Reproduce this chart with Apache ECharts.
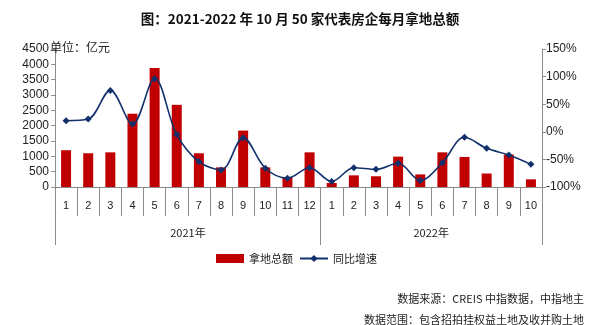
<!DOCTYPE html>
<html>
<head>
<meta charset="utf-8">
<script src="https://cdn.jsdelivr.net/npm/echarts@6/dist/echarts.min.js"></script>
<style>
  html, body { margin: 0; padding: 0; background: #fff; }
  #chart { width: 600px; height: 325px; }
</style>
</head>
<body>
<div id="chart"></div>
<script>
// Monthly land acquisition of 50 representative developers, Jan 2021 – Oct 2022
const months = ['1','2','3','4','5','6','7','8','9','10','11','12',
                '1','2','3','4','5','6','7','8','9','10'];
const years = ['2021年', '2022年'];
const yearBounds = [0, 12, 22];          // category boundaries between the two years
const yearCenters = [6, 17];             // where the year labels sit
const landAmount = [1200, 1100, 1130, 2390, 3880, 2680, 1100, 640, 1840, 640, 320, 1130,
                    130, 380, 350, 990, 410, 1130, 980, 440, 1060, 250];   // 亿元
const yoyGrowth = [20, 23, 75, 14, 96, -5, -54, -69, -11, -66, -84, -65,
                   -90, -65, -68, -57, -88, -56, -10, -30, -42, -59];        // %
const leftTicks = { min: 0, max: 4500, interval: 500 };
const rightTicks = { min: -100, max: 150, interval: 50 };

const font = '"Liberation Sans", Arial, sans-serif';
const cjk = '"Noto Sans CJK SC", sans-serif';
const axisGray = '#8c8c8c';

const chart = echarts.init(document.getElementById('chart'));
chart.setOption({
  backgroundColor: '#fff',
  animation: false,
  title: [
    {
      text: '图：2021-2022 年 10 月 50 家代表房企每月拿地总额',
      left: 'center', top: 7,
      textStyle: { fontFamily: cjk, fontSize: 13.5, fontWeight: 'bold', color: '#111' }
    },
    {
      text: '单位：亿元',
      left: 45, top: 36,
      textStyle: { fontFamily: cjk, fontSize: 12, fontWeight: 'normal', color: '#222' }
    },
    {
      text: '数据来源：CREIS 中指数据，中指地主',
      right: 11, top: 288,
      textStyle: { fontFamily: cjk, fontSize: 11, fontWeight: 'normal', color: '#222' }
    },
    {
      text: '数据范围：包含招拍挂权益土地及收并购土地',
      right: 11, top: 309,
      textStyle: { fontFamily: cjk, fontSize: 11, fontWeight: 'normal', color: '#222' }
    }
  ],
  legend: {
    top: 248, left: 211,
    itemGap: 6, itemWidth: 28, itemHeight: 9,
    textStyle: { fontFamily: cjk, fontSize: 11, color: '#222' },
    data: [
      { name: '拿地总额', icon: 'rect' },
      { name: '同比增速' }
    ]
  },
  grid: { left: 55, right: 58, top: 49, bottom: 138 },
  xAxis: [
    {
      type: 'category',
      data: months,
      boundaryGap: true,
      axisLine: { lineStyle: { color: axisGray, width: 1 } },
      axisTick: { show: true, length: 29, lineStyle: { color: axisGray } },
      axisLabel: { fontFamily: font, fontSize: 11, color: '#222', margin: 13, interval: 0 }
    },
    {
      type: 'value',
      position: 'bottom',
      min: -0.01, max: 22.01,
      axisLine: { show: false, onZero: false },
      splitLine: { show: false },
      axisTick: { show: true, length: 58, customValues: yearBounds, lineStyle: { color: axisGray, width: 1 } },
      axisLabel: {
        customValues: yearCenters,
        margin: 40,
        fontFamily: cjk, fontSize: 11, color: '#222',
        formatter: v => years[yearCenters.indexOf(v)]
      }
    }
  ],
  yAxis: [
    {
      type: 'value',
      min: leftTicks.min, max: leftTicks.max, interval: leftTicks.interval,
      axisLine: { show: true, lineStyle: { color: axisGray } },
      axisTick: { show: true, length: 4, lineStyle: { color: axisGray } },
      splitLine: { show: false },
      axisLabel: { fontFamily: font, fontSize: 12, color: '#222', margin: 6, formatter: v => String(v) }
    },
    {
      type: 'value',
      min: rightTicks.min, max: rightTicks.max, interval: rightTicks.interval,
      axisLine: { show: true, lineStyle: { color: axisGray } },
      axisTick: { show: true, length: 4, lineStyle: { color: axisGray } },
      splitLine: { show: false },
      axisLabel: { fontFamily: font, fontSize: 12, color: '#222', margin: 4, formatter: '{value}%' }
    }
  ],
  series: [
    {
      name: '拿地总额',
      type: 'bar',
      xAxisIndex: 0, yAxisIndex: 0,
      data: landAmount,
      barWidth: 10,
      itemStyle: { color: '#C00000' }
    },
    {
      name: '同比增速',
      type: 'line',
      xAxisIndex: 0, yAxisIndex: 1,
      data: yoyGrowth,
      smooth: 0.35,
      symbol: 'diamond',
      symbolSize: 7,
      lineStyle: { color: '#12306B', width: 1.6 },
      itemStyle: { color: '#12306B' }
    }
  ]
});
</script>
</body>
</html>
